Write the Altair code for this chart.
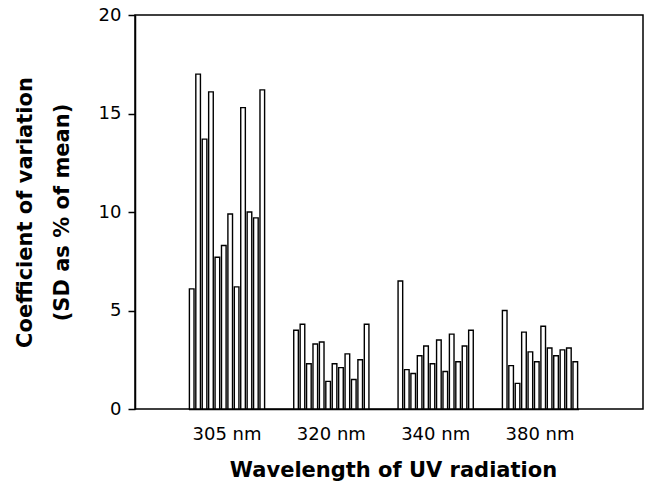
import altair as alt
import pandas as pd

wavelengths = ["305 nm", "320 nm", "340 nm", "380 nm"]
cv_305 = [6.1, 17.0, 13.7, 16.1, 7.7, 8.3, 9.9, 6.2, 15.3, 10.0, 9.7, 16.2]
cv_320 = [4.0, 4.3, 2.3, 3.3, 3.4, 1.4, 2.3, 2.1, 2.8, 1.5, 2.5, 4.3]
cv_340 = [6.5, 2.0, 1.8, 2.7, 3.2, 2.3, 3.5, 1.9, 3.8, 2.4, 3.2, 4.0]
cv_380 = [5.0, 2.2, 1.3, 3.9, 2.9, 2.4, 4.2, 3.1, 2.7, 3.0, 3.1, 2.4]
y_ticks = [0, 5, 10, 15, 20]

rows = []
for wl, vals in zip(wavelengths, [cv_305, cv_320, cv_340, cv_380]):
    for i, v in enumerate(vals):
        rows.append({"wavelength": wl, "idx": i, "cv": v})
df = pd.DataFrame(rows)

FONT = "DejaVu Sans"

chart = alt.Chart(df).mark_bar(
    fill="white", stroke="black", strokeWidth=1.4
).encode(
    x=alt.X(
        "wavelength:N",
        sort=wavelengths,
        scale=alt.Scale(range=[53.5, 443.5], paddingInner=0.262, paddingOuter=0),
        axis=alt.Axis(
            title="Wavelength of UV radiation",
            labelAngle=0,
            ticks=False,
            labelPadding=16,
            labelFont=FONT,
            labelFontSize=18,
            labelColor="black",
            domainColor="black",
            domainWidth=1.5,
            titleFont=FONT,
            titleFontSize=21,
            titleFontWeight="bold",
            titleColor="black",
            titleBaseline="alphabetic",
            titleX=258,
            titleY=67,
        ),
    ),
    xOffset=alt.XOffset("idx:O", scale=alt.Scale(paddingInner=0.28, paddingOuter=0.14)),
    y=alt.Y(
        "cv:Q",
        scale=alt.Scale(domain=[0, 20], nice=False),
        axis=alt.Axis(
            title=["Coefficient of variation", "(SD as % of mean)"],
            values=y_ticks,
            grid=False,
            tickSize=7,
            tickWidth=1.5,
            tickColor="black",
            labelPadding=7,
            labelFont=FONT,
            labelFontSize=18,
            labelColor="black",
            domainColor="black",
            domainWidth=1.5,
            titleFont=FONT,
            titleFontSize=21,
            titleFontWeight="bold",
            titleColor="black",
            titleAngle=-90,
            titleAlign="center",
            titleBaseline="top",
            titleLineHeight=37,
            titleX=-121,
            titleY=197,
        ),
    ),
).properties(
    width=508,
    height=394,
    padding={"left": 127, "top": 7, "right": 1, "bottom": 73},
    autosize=alt.AutoSizeParams(type="none"),
    background="white",
).configure_view(
    stroke="black", strokeWidth=1.5
)

chart.save("out.html", embed_options={"renderer": "svg", "actions": False})
